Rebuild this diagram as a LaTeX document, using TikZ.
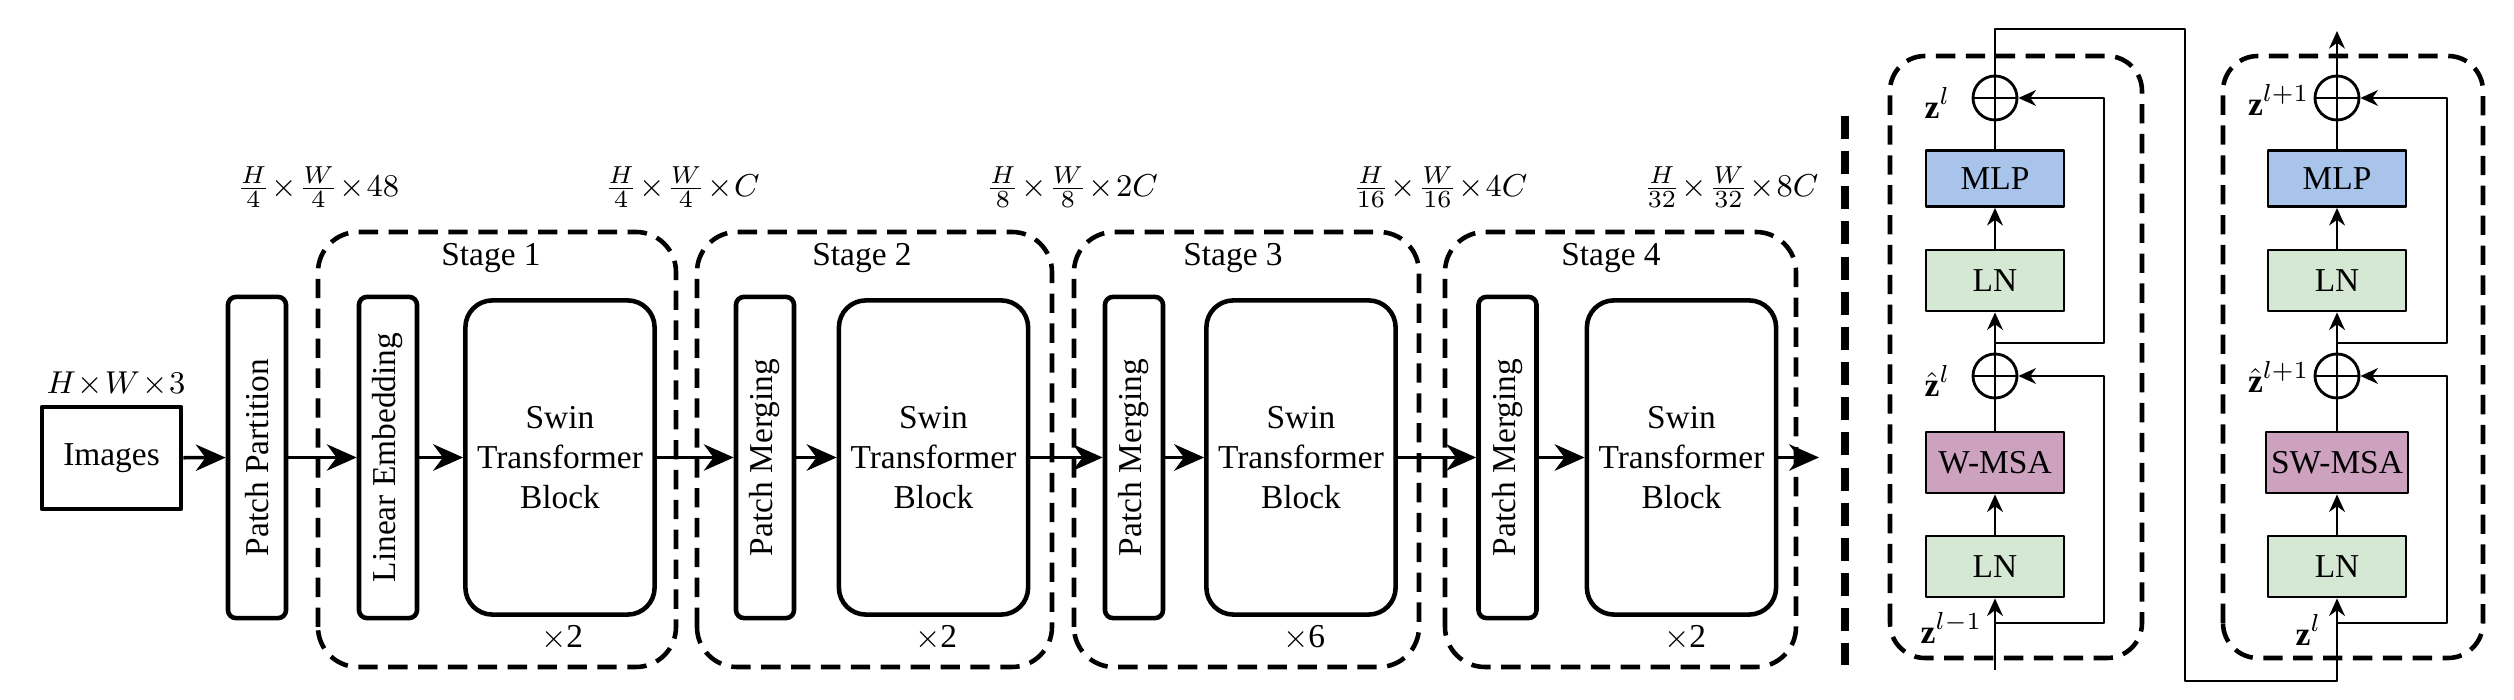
\documentclass[tikz,border=0pt]{standalone}
\usepackage{fontspec}
\setmainfont{Liberation Serif}
\usepackage{amsmath}
\usetikzlibrary{arrows.meta,positioning}

\definecolor{mlpblue}{HTML}{A9C4EB}
\definecolor{lngreen}{HTML}{D5E8D4}
\definecolor{msapink}{HTML}{CDA2BE}

\tikzset{
  plainbox/.style={draw,line width=1.3pt,minimum width=1.39cm,minimum height=1.02cm,inner sep=1pt},
  slimbox/.style={draw,line width=1.3pt,rounded corners=0.08cm,rotate=90,minimum width=3.21cm,minimum height=0.58cm,inner sep=0pt},
  swinbox/.style={draw,line width=1.3pt,rounded corners=0.27cm,minimum width=1.88cm,minimum height=3.14cm,align=center},
  stagebox/.style={line width=1.3pt,dash pattern=on 5.5pt off 3pt,rounded corners=0.4cm},
  mainarrow/.style={->,line width=1pt,>={Stealth[length=8.5pt,width=7.5pt]}},
  layerbox/.style={draw,line width=0.8pt,minimum width=1.38cm,minimum height=0.61cm,inner sep=0pt},
  lnbox/.style={layerbox,fill=lngreen},
  mlpbox/.style={layerbox,fill=mlpblue,minimum height=0.56cm},
  msabox/.style={layerbox,fill=msapink},
  addnode/.style={circle,draw,line width=0.8pt,minimum size=0.44cm,inner sep=0pt,
    path picture={\draw[line width=0.8pt] (path picture bounding box.north) -- (path picture bounding box.south)
      (path picture bounding box.west) -- (path picture bounding box.east);}},
  zlabel/.style={anchor=east,inner sep=0pt},
  wire/.style={line width=0.6pt},
  wirearrow/.style={wire,->,>={Stealth[length=5pt,width=4.5pt]}},
  blockbox/.style={line width=1.3pt,dash pattern=on 5.5pt off 3pt,rounded corners=0.35cm},
  divider/.style={line width=2pt,dash pattern=on 6.5pt off 3.5pt}
}

\begin{document}
\begin{tikzpicture}[x=0.01cm,y=0.01cm,line join=round,font=\fontsize{9.5}{11.4}\selectfont]
	\useasboundingbox (0,0) rectangle (2514,700);
	% stages
	\draw[stagebox] (318,33) rectangle (676,468);
	\draw[stagebox] (697,33) rectangle (1052,468);
	\draw[stagebox] (1074,33) rectangle (1419,468);
	\draw[stagebox] (1445,33) rectangle (1796,468);
	\node (st1) at (491,442) {Stage 1};
	\node (st2) at (862,442) {Stage 2};
	\node (st3) at (1233,442) {Stage 3};
	\node (st4) at (1611,442) {Stage 4};
	\node (rep1) at (562,62) {$\times$2};
	\node (rep2) at (936,62) {$\times$2};
	\node (rep3) at (1304,62) {$\times$6};
	\node (rep4) at (1685,62) {$\times$2};
	% main row
	\node[plainbox] (img) at (111.5,242) {Images};
	\node (imgsize) at (116,316) {$H\!\times\!W\!\times\!3$};
	\node[slimbox] (pp) at (257,242.5) {Patch Partition};
	\node[slimbox] (le) at (388,242.5) {Linear Embedding};
	\node[swinbox] (sw1) at (560,242.5) {Swin\\Transformer\\Block};
	\node[slimbox] (pm2) at (765,242.5) {Patch Merging};
	\node[swinbox] (sw2) at (933.5,242.5) {Swin\\Transformer\\Block};
	\node[slimbox] (pm3) at (1134,242.5) {Patch Merging};
	\node[swinbox] (sw3) at (1301,242.5) {Swin\\Transformer\\Block};
	\node[slimbox] (pm4) at (1507.5,242.5) {Patch Merging};
	\node[swinbox] (sw4) at (1681.5,242.5) {Swin\\Transformer\\Block};
	\coordinate (out) at (1819,242.5);
	\draw[mainarrow] (img) -- (pp);
	\draw[mainarrow] (pp) -- (le);
	\draw[mainarrow] (le) -- (sw1);
	\draw[mainarrow] (sw1) -- (pm2);
	\draw[mainarrow] (pm2) -- (sw2);
	\draw[mainarrow] (sw2) -- (pm3);
	\draw[mainarrow] (pm3) -- (sw3);
	\draw[mainarrow] (sw3) -- (pm4);
	\draw[mainarrow] (pm4) -- (sw4);
	\draw[mainarrow] (sw4) -- (out);
	% sizes
	\node (size1) at (318,513) {$\frac{H}{4}\!\times\!\frac{W}{4}\!\times\!48$};
	\node (size2) at (682,513) {$\frac{H}{4}\!\times\!\frac{W}{4}\!\times\!C$};
	\node (size3) at (1072,513) {$\frac{H}{8}\!\times\!\frac{W}{8}\!\times\!2C$};
	\node (size4) at (1440,513) {$\frac{H}{16}\!\times\!\frac{W}{16}\!\times\!4C$};
	\node (size5) at (1731,513) {$\frac{H}{32}\!\times\!\frac{W}{32}\!\times\!8C$};
	% divider
	\draw[divider] (1845,584) -- (1845,35);
	% two successive blocks
	\draw[blockbox] (1890,42) rectangle (2142,644);
	\draw[blockbox] (2223,42) rectangle (2483,644);
	\node[lnbox] (lnA1) at (1995,133.5) {LN};
	\node[msabox] (msaA) at (1995,237.5) {W-MSA};
	\node[addnode] (addA1) at (1995,324) {};
	\node[lnbox] (lnA2) at (1995,419.5) {LN};
	\node[mlpbox] (mlpA) at (1995,521.5) {MLP};
	\node[addnode] (addA2) at (1995,602) {};
	\node[lnbox] (lnB1) at (2337,133.5) {LN};
	\node[msabox,minimum width=1.42cm] (msaB) at (2337,237.5) {SW-MSA};
	\node[addnode] (addB1) at (2337,324) {};
	\node[lnbox] (lnB2) at (2337,419.5) {LN};
	\node[mlpbox] (mlpB) at (2337,521.5) {MLP};
	\node[addnode] (addB2) at (2337,602) {};
	\node[zlabel] (zA0) at (1983,72) {$\mathbf{z}^{l-1}$};
	\node[zlabel] (zA1) at (1951,319) {$\hat{\mathbf{z}}^{l}$};
	\node[zlabel] (zA2) at (1951,597) {$\mathbf{z}^{l}$};
	\node[zlabel] (zB0) at (2322,70) {$\mathbf{z}^{l}$};
	\node[zlabel] (zB1) at (2310,323) {$\hat{\mathbf{z}}^{l+1}$};
	\node[zlabel] (zB2) at (2310,600) {$\mathbf{z}^{l+1}$};
	\coordinate (inA) at (1995,30);
	\coordinate (brA1) at (1995,77);
	\coordinate (brA2) at (1995,357);
	\coordinate (skipA) at (2104,0);
	\coordinate (brB1) at (2337,77);
	\coordinate (brB2) at (2337,357);
	\coordinate (skipB) at (2447,0);
	\coordinate (wireT) at (2185,671);
	\coordinate (wireB) at (2185,19);
	\coordinate (outB) at (2337,669);
	\draw[wirearrow] (inA) -- (lnA1);
	\draw[wirearrow] (lnA1) -- (msaA);
	\draw[wire] (msaA) -- (addA1);
	\draw[wirearrow] (addA1) -- (lnA2);
	\draw[wirearrow] (lnA2) -- (mlpA);
	\draw[wire] (mlpA) -- (addA2);
	\draw[wirearrow] (brA1) -- (brA1 -| skipA) |- (addA1.east);
	\draw[wirearrow] (brA2) -- (brA2 -| skipA) |- (addA2.east);
	\draw[wirearrow] (addA2) -- (addA2 |- wireT) -- (wireT) -- (wireB) -- (wireB -| lnB1) -- (lnB1);
	\draw[wirearrow] (lnB1) -- (msaB);
	\draw[wire] (msaB) -- (addB1);
	\draw[wirearrow] (addB1) -- (lnB2);
	\draw[wirearrow] (lnB2) -- (mlpB);
	\draw[wire] (mlpB) -- (addB2);
	\draw[wirearrow] (brB1) -- (brB1 -| skipB) |- (addB1.east);
	\draw[wirearrow] (brB2) -- (brB2 -| skipB) |- (addB2.east);
	\draw[wirearrow] (addB2) -- (outB);
\end{tikzpicture}
\end{document}
